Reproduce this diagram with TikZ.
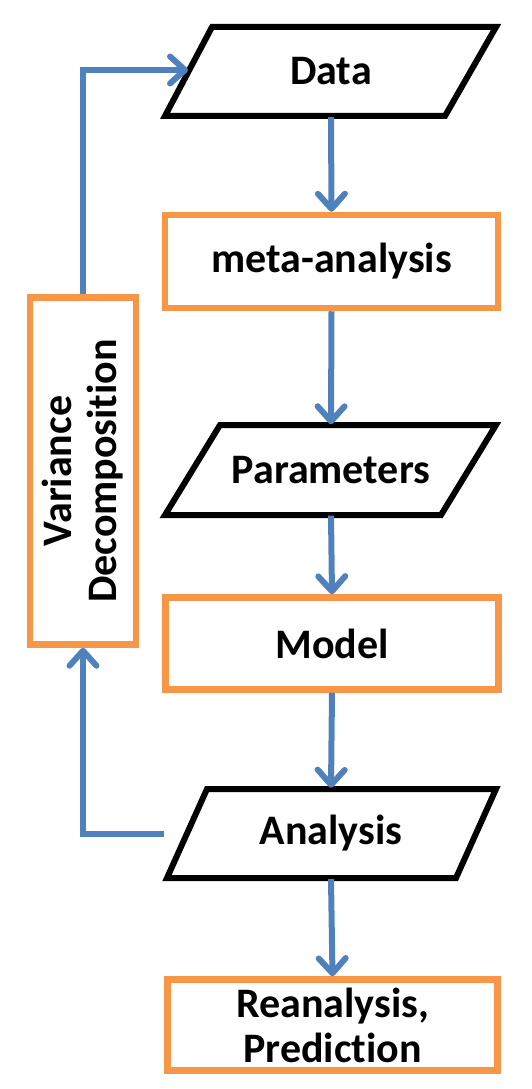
\documentclass[tikz,border=0pt]{standalone}
\usepackage{fontspec}
\setmainfont{Carlito}[Ligatures=NoCommon]
\usetikzlibrary{arrows.meta}
\definecolor{flowblue}{HTML}{4F81BD}
\definecolor{floworange}{HTML}{F79646}
\begin{document}
\begin{tikzpicture}[x=1pt,y=-1pt,
  lbl/.style={font=\fontsize{42}{45}\selectfont\bfseries, align=center, inner sep=0pt},
  procbox/.style={lbl, draw=floworange, line width=6.5pt, fill=white},
  iotext/.style={lbl, minimum height=91pt},
  iobox/.style={draw=black, line width=6pt, line join=miter, fill=white},
  arr/.style={draw=flowblue, line width=6pt, -{Straight Barb[round,length=15pt,width=27pt]}},
  link/.style={draw=flowblue, line width=6pt}]
\useasboundingbox (0,0) rectangle (531,1089);
% parallelograms
\path[iobox] (212,27) -- (496,27) -- (445,116) -- (165,116) -- cycle;
\path[iobox] (220,425) -- (496,425) -- (441,515) -- (165,515) -- cycle;
\path[iobox] (207,789) -- (496,789) -- (456,878) -- (167,878) -- cycle;
\node[iotext] (data) at (331,71.5) {Data};
\node[iotext] (param) at (331,470) {Parameters};
\node[iotext] (ana) at (331,833.5) {Analysis};
% boxes
\node[procbox, minimum width=333pt, minimum height=93pt] (meta) at (331.5,261.5) {meta-analysis};
\node[procbox, minimum width=333pt, minimum height=92pt] (model) at (332,643.5) {Model};
\node[procbox, minimum width=330pt, minimum height=91pt] (rean) at (332.5,1025) {Reanalysis,\\Prediction};
\node[procbox, minimum width=347pt, minimum height=106pt, rotate=90] (vd) at (83,471) {Variance\\Decomposition};
% connection points
\coordinate (dataL) at (188,70);
\coordinate (anaL) at (164,834);
% connectors
\draw[arr] (data.south) -- (meta.north);
\draw[arr] (meta.south) -- (param.north);
\draw[arr] (param.south) -- (model.north);
\draw[arr] (model.south) -- (ana.north);
\draw[arr] (ana.south) -- (rean.north);
\draw[arr] (vd.east) |- (dataL);
\draw[arr] (anaL) -| (vd.west);
\end{tikzpicture}
\end{document}
